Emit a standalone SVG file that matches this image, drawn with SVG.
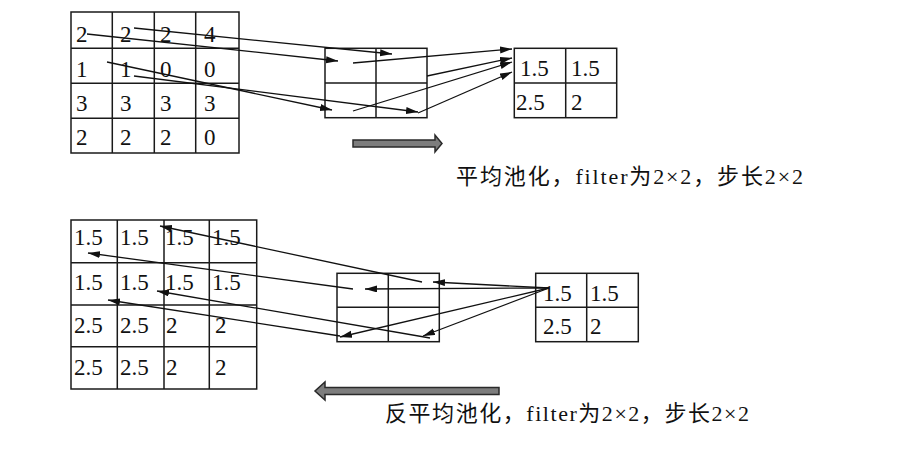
<svg xmlns="http://www.w3.org/2000/svg" width="924" height="465" viewBox="0 0 924 465">
<style>
.g{fill:none;stroke:#1a1a1a;stroke-width:1.5}
.t{font-family:"Liberation Serif","Times New Roman",serif;font-size:23px;fill:#111}
.c{stroke:#111;stroke-width:1.3;fill:none;marker-end:url(#ah)}
.cap{font-family:"Liberation Serif","Noto Sans CJK SC",serif;font-size:22px;fill:#111}
.big{fill:#7d7d7d;stroke:#2a2a2a;stroke-width:1.5;stroke-linejoin:miter}
</style>
<defs>
<marker id="ah" markerUnits="userSpaceOnUse" markerWidth="14" markerHeight="8" refX="12" refY="3.5" orient="auto">
<path d="M0,0 L12,3.5 L0,7 z" fill="#111"/>
</marker>
</defs>
<rect width="924" height="465" fill="#fff"/>

<g id="input-grid">
<rect class="g" x="71" y="12" width="168" height="141"/>
<path class="g" d="M112.3,12V153M154.3,12V153M195.7,12V153M71,48.3H239M71,83.3H239M71,118.3H239"/>
<text class="t" x="76" y="41.5">2</text><text class="t" x="120" y="41.5">2</text><text class="t" x="160" y="41.5">2</text><text class="t" x="204" y="41.5">4</text>
<text class="t" x="76" y="76.5">1</text><text class="t" x="120" y="76.5">1</text><text class="t" x="160" y="76.5">0</text><text class="t" x="204" y="76.5">0</text>
<text class="t" x="76" y="111">3</text><text class="t" x="120" y="111">3</text><text class="t" x="160" y="111">3</text><text class="t" x="204" y="111">3</text>
<text class="t" x="76" y="144.5">2</text><text class="t" x="120" y="144.5">2</text><text class="t" x="160" y="144.5">2</text><text class="t" x="204" y="144.5">0</text>
</g>

<g id="pool-window">
<rect class="g" x="325" y="48.3" width="102" height="69.4"/>
<path class="g" d="M376,48.3V117.7M325,83H427"/>
</g>

<g id="pooled-grid">
<rect class="g" x="514.3" y="48.3" width="102.4" height="69.4"/>
<path class="g" d="M565.7,48.3V117.7M514.3,83H616.7"/>
<text class="t" x="520" y="75.5">1.5</text><text class="t" x="571" y="75.5">1.5</text>
<text class="t" x="516" y="110">2.5</text><text class="t" x="571" y="110">2</text>
</g>

<g id="unpool-input">
<rect class="g" x="535.7" y="273.3" width="102.6" height="68.4"/>
<path class="g" d="M586.7,273.3V341.7M535.7,307.3H638.3"/>
<text class="t" x="543" y="300.5">1.5</text><text class="t" x="590" y="300.5">1.5</text>
<text class="t" x="543" y="334">2.5</text><text class="t" x="590" y="334">2</text>
</g>

<g id="unpool-window">
<rect class="g" x="337" y="273.3" width="102.3" height="68.4"/>
<path class="g" d="M388.3,273.3V341.7M337,307.3H439.3"/>
</g>

<g id="output-grid">
<rect class="g" x="71" y="220" width="185.7" height="169"/>
<path class="g" d="M117.3,220V389M164,220V389M209.3,220V389M71,262.7H256.7M71,305H256.7M71,346.7H256.7"/>
<text class="t" x="74" y="244.5">1.5</text><text class="t" x="120" y="244.5">1.5</text><text class="t" x="165" y="244.5">1.5</text><text class="t" x="212" y="244.5">1.5</text>
<text class="t" x="74" y="289.5">1.5</text><text class="t" x="120" y="289.5">1.5</text><text class="t" x="165" y="289.5">1.5</text><text class="t" x="212" y="289.5">1.5</text>
<text class="t" x="74" y="332.5">2.5</text><text class="t" x="120" y="332.5">2.5</text><text class="t" x="166" y="332.5">2</text><text class="t" x="215" y="332.5">2</text>
<text class="t" x="74" y="374.5">2.5</text><text class="t" x="120" y="374.5">2.5</text><text class="t" x="166" y="374.5">2</text><text class="t" x="215" y="374.5">2</text>
</g>

<g id="connectors">
<line class="c" x1="87" y1="34" x2="338" y2="61"/>
<line class="c" x1="134" y1="28" x2="392" y2="54"/>
<line class="c" x1="107" y1="62" x2="332" y2="110"/>
<line class="c" x1="134" y1="76" x2="418" y2="112"/>
<line class="c" x1="353" y1="63" x2="512" y2="49"/>
<line class="c" x1="427" y1="76" x2="512" y2="58"/>
<line class="c" x1="353" y1="111" x2="512" y2="62"/>
<line class="c" x1="418" y1="113" x2="512" y2="72"/>

<line class="c" x1="549" y1="288" x2="433" y2="282"/>
<line class="c" x1="549" y1="288" x2="365" y2="289"/>
<line class="c" x1="549" y1="288" x2="340" y2="337"/>
<line class="c" x1="549" y1="288" x2="423" y2="336"/>
<line class="c" x1="422" y1="282" x2="160" y2="226"/>
<line class="c" x1="353" y1="289" x2="88" y2="253"/>
<line class="c" x1="430" y1="338" x2="157" y2="291"/>
<line class="c" x1="340" y1="336" x2="108" y2="300"/>
</g>

<g id="pool-arrow">
<path class="big" d="M353,140H435V135L442,143.5L435,152V147H353Z"/>
</g>
<g id="unpool-arrow">
<path class="big" d="M499,387.5H325V382L315,391L325,400V394.5H499Z"/>
</g>

<text class="cap" x="456" y="184" textLength="347" lengthAdjust="spacing">平均池化，filter为2×2，步长2×2</text>
<text class="cap" x="385" y="421" textLength="364" lengthAdjust="spacing">反平均池化，filter为2×2，步长2×2</text>
</svg>
